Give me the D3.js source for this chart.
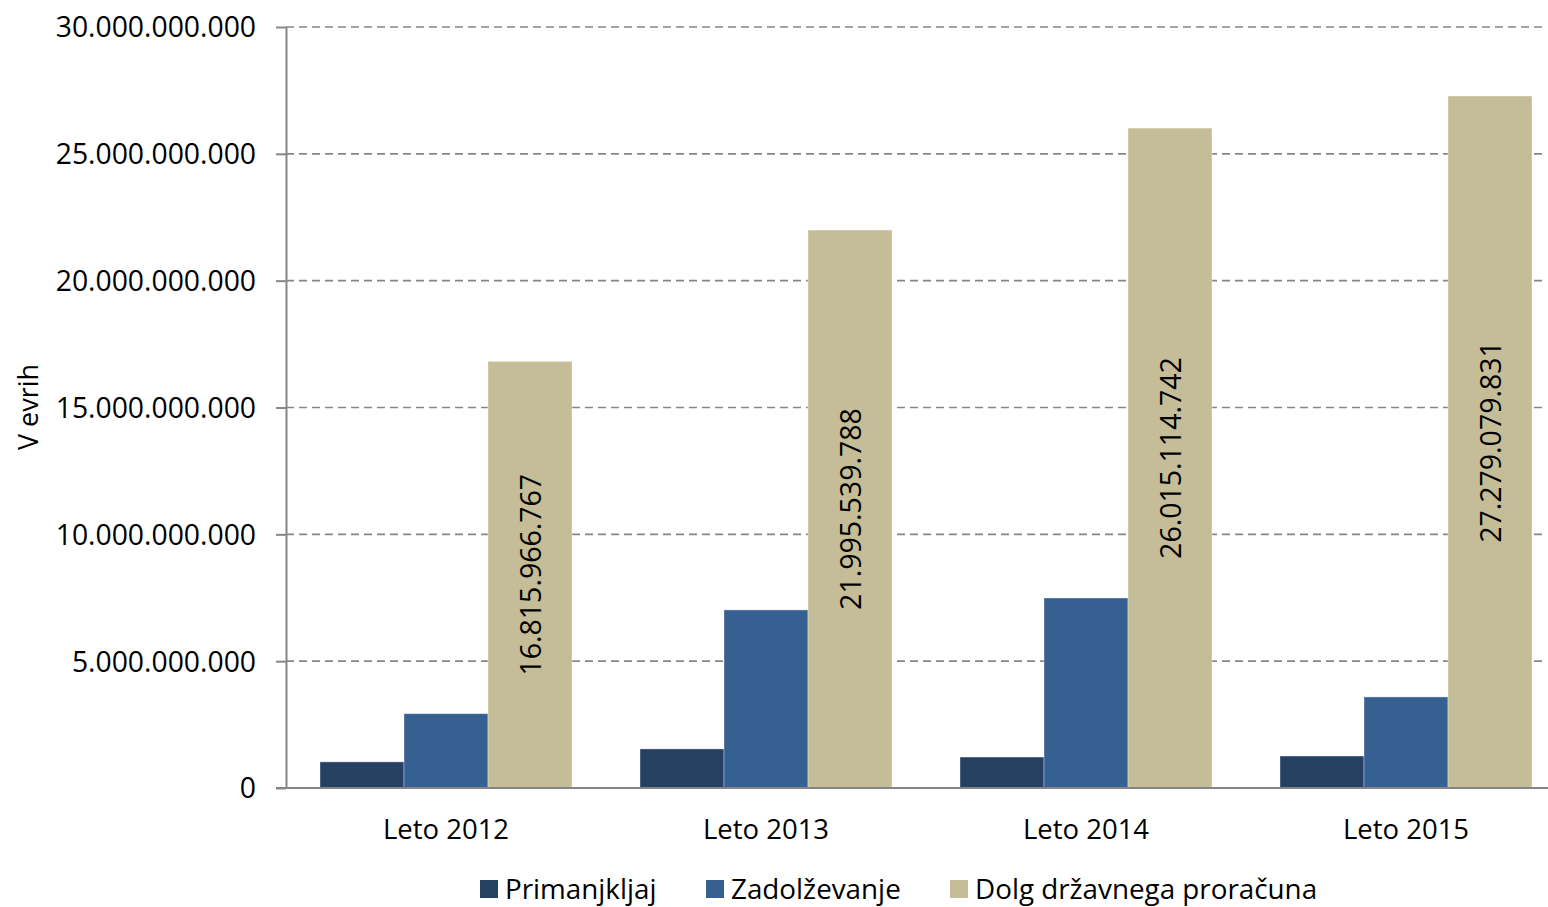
<!DOCTYPE html>
<html><head><meta charset="utf-8">
<script src="https://cdn.jsdelivr.net/npm/d3@7"></script>
<style>
html,body{margin:0;padding:0;background:#fff;}
svg{display:block;font-family:"Open Sans",sans-serif;}
</style></head>
<body><svg id="c" width="1548" height="907"></svg>
<script>
const categories = ["Leto 2012","Leto 2013","Leto 2014","Leto 2015"];
const seriesNames = ["Primanjkljaj","Zadolževanje","Dolg državnega proračuna"];
const primanjkljaj = [1030000000, 1540000000, 1220000000, 1260000000];
const zadolzevanje = [2930000000, 7020000000, 7490000000, 3590000000];
const dolg = [16815966767, 21995539788, 26015114742, 27279079831];
const yTicks = [0, 5000000000, 10000000000, 15000000000, 20000000000, 25000000000, 30000000000];
const colors = ["#264062","#366092","#c4bd97"];
const yTitle = "V evrih";

const seriesValues = [primanjkljaj, zadolzevanje, dolg];
const fmt = v => d3.format(",")(v).replace(/,/g, ".");

const svg = d3.select("#c");
const pLeft = 286, pRight = 1566, pTop = 27, pBottom = 788;

const x = d3.scaleBand().domain(categories).range([pLeft, pRight]).paddingInner(0.2125).paddingOuter(0.10625);
const xs = d3.scaleBand().domain(seriesNames).range([0, x.bandwidth()]);
const y = d3.scaleLinear().domain([0, 30000000000]).range([pBottom, pTop]);

// gridlines
svg.append("g").selectAll("line").data(yTicks.filter(d => d > 0)).join("line")
  .attr("x1", pLeft).attr("x2", 1546)
  .attr("y1", d => y(d)).attr("y2", d => y(d))
  .attr("stroke", "#868686").attr("stroke-width", 1.6).attr("stroke-dasharray", "8,5");

// bars
const g = svg.append("g");
categories.forEach((c, i) => {
  seriesNames.forEach((s, j) => {
    const v = seriesValues[j][i];
    g.append("rect")
      .attr("x", x(c) + xs(s)).attr("y", y(v))
      .attr("width", xs.bandwidth()).attr("height", y(0) - y(v))
      .attr("fill", colors[j]).attr("stroke", "rgba(255,255,255,0.35)").attr("stroke-width", 1);
  });
});

// data labels on debt bars
categories.forEach((c, i) => {
  const v = dolg[i];
  const cx = x(c) + xs(seriesNames[2]) + xs.bandwidth() / 2;
  const cy = (y(v) + y(0)) / 2;
  svg.append("text")
    .attr("transform", `translate(${cx + 11},${cy}) rotate(-90)`)
    .attr("text-anchor", "middle")
    .attr("font-size", 28.5).attr("fill", "#000")
    .text(fmt(v));
});

// y axis
const yAxis = svg.append("g").attr("transform", `translate(${pLeft},0)`)
  .call(d3.axisLeft(y).tickValues(yTicks).tickFormat(fmt).tickSize(10).tickPadding(20).tickSizeOuter(0));
yAxis.select(".domain").attr("stroke", "#868686").attr("stroke-width", 2);
yAxis.selectAll(".tick line").attr("stroke", "#868686").attr("stroke-width", 2);
yAxis.selectAll(".tick text").attr("font-size", 28.3).attr("fill", "#000").attr("font-family", "Open Sans").attr("dy", "0.35em");

// x axis
const xAxis = svg.append("g").attr("transform", `translate(0,${pBottom})`)
  .call(d3.axisBottom(x).tickSize(0).tickPadding(31));
xAxis.select(".domain").attr("d", `M${pLeft - 10},0H1548`).attr("stroke", "#868686").attr("stroke-width", 2);
xAxis.selectAll(".tick text").attr("font-size", 27.5).attr("fill", "#000").attr("font-family", "Open Sans");

// y title
svg.append("text").attr("transform", `translate(38,${(362 + 452) / 2}) rotate(-90)`)
  .attr("text-anchor", "middle").attr("font-size", 27).attr("fill", "#000").text(yTitle);

// legend
const legX = [480, 706, 950];
const leg = svg.append("g");
seriesNames.forEach((s, j) => {
  leg.append("rect").attr("x", legX[j]).attr("y", 880).attr("width", 18).attr("height", 18).attr("fill", colors[j]);
  leg.append("text").attr("x", legX[j] + 25).attr("y", 889).attr("dy", "0.35em")
    .attr("font-size", 27.8).attr("fill", "#000").text(s);
});
</script></body></html>
